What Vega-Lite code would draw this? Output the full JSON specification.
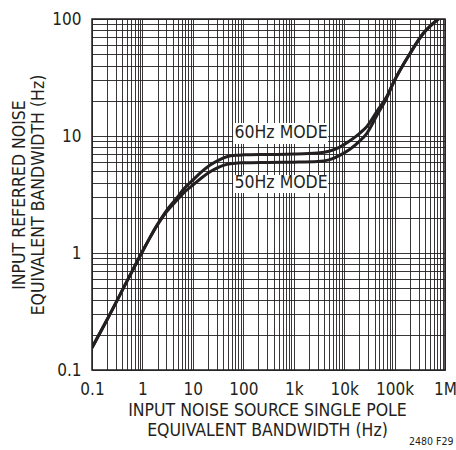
{
  "$schema": "https://vega.github.io/schema/vega-lite/v6.json",
  "width": 353,
  "height": 351,
  "autosize": {"type": "none"},
  "padding": {"left": 92, "top": 19, "right": 11, "bottom": 80},
  "background": "white",
  "config": {
    "font": "DejaVu Sans Condensed, sans-serif",
    "view": {"stroke": "#231f20", "strokeWidth": 1.5},
    "axis": {"labelColor": "#231f20", "titleColor": "#231f20", "gridColor": "#231f20", "gridWidth": 0.9, "gridOpacity": 1}
  },
  "title": {"text": "2480 F29", "orient": "bottom", "anchor": "end", "fontSize": 10.5, "fontWeight": "normal", "color": "#231f20", "offset": -2, "dx": -3},
  "datasets": {
    "curves": [
      {"mode": "60Hz", "x": 0.1, "y": 0.155},
      {"mode": "60Hz", "x": 0.2, "y": 0.27},
      {"mode": "60Hz", "x": 0.5, "y": 0.58},
      {"mode": "60Hz", "x": 1, "y": 1.03},
      {"mode": "60Hz", "x": 1.3, "y": 1.27},
      {"mode": "60Hz", "x": 1.6, "y": 1.5},
      {"mode": "60Hz", "x": 2.2, "y": 1.88},
      {"mode": "60Hz", "x": 3, "y": 2.3},
      {"mode": "60Hz", "x": 4.8, "y": 2.95},
      {"mode": "60Hz", "x": 6.5, "y": 3.5},
      {"mode": "60Hz", "x": 10, "y": 4.2},
      {"mode": "60Hz", "x": 15, "y": 4.95},
      {"mode": "60Hz", "x": 22, "y": 5.65},
      {"mode": "60Hz", "x": 32, "y": 6.2},
      {"mode": "60Hz", "x": 47, "y": 6.65},
      {"mode": "60Hz", "x": 70, "y": 6.85},
      {"mode": "60Hz", "x": 100, "y": 6.9},
      {"mode": "60Hz", "x": 300, "y": 6.95},
      {"mode": "60Hz", "x": 1000, "y": 7.0},
      {"mode": "60Hz", "x": 3000, "y": 7.15},
      {"mode": "60Hz", "x": 5000, "y": 7.4},
      {"mode": "60Hz", "x": 8000, "y": 8.0},
      {"mode": "60Hz", "x": 13000, "y": 9.1},
      {"mode": "60Hz", "x": 20000, "y": 10.5},
      {"mode": "60Hz", "x": 28000, "y": 12.0},
      {"mode": "60Hz", "x": 45000, "y": 16.3},
      {"mode": "60Hz", "x": 70000, "y": 21.8},
      {"mode": "60Hz", "x": 95000, "y": 28.6},
      {"mode": "60Hz", "x": 204000, "y": 51},
      {"mode": "60Hz", "x": 372000, "y": 75.5},
      {"mode": "60Hz", "x": 740000, "y": 100},
      {"mode": "50Hz", "x": 0.1, "y": 0.155},
      {"mode": "50Hz", "x": 0.2, "y": 0.27},
      {"mode": "50Hz", "x": 0.5, "y": 0.58},
      {"mode": "50Hz", "x": 1, "y": 1.03},
      {"mode": "50Hz", "x": 1.3, "y": 1.27},
      {"mode": "50Hz", "x": 1.6, "y": 1.49},
      {"mode": "50Hz", "x": 2.2, "y": 1.86},
      {"mode": "50Hz", "x": 3, "y": 2.25},
      {"mode": "50Hz", "x": 4.8, "y": 2.82},
      {"mode": "50Hz", "x": 6.5, "y": 3.25},
      {"mode": "50Hz", "x": 10, "y": 3.8},
      {"mode": "50Hz", "x": 15, "y": 4.4},
      {"mode": "50Hz", "x": 22, "y": 4.95},
      {"mode": "50Hz", "x": 32, "y": 5.4},
      {"mode": "50Hz", "x": 47, "y": 5.72},
      {"mode": "50Hz", "x": 70, "y": 5.86},
      {"mode": "50Hz", "x": 100, "y": 5.9},
      {"mode": "50Hz", "x": 300, "y": 5.95},
      {"mode": "50Hz", "x": 1000, "y": 5.98},
      {"mode": "50Hz", "x": 3000, "y": 6.05},
      {"mode": "50Hz", "x": 5000, "y": 6.25},
      {"mode": "50Hz", "x": 8000, "y": 6.8},
      {"mode": "50Hz", "x": 13000, "y": 7.7},
      {"mode": "50Hz", "x": 20000, "y": 9.0},
      {"mode": "50Hz", "x": 28000, "y": 10.5},
      {"mode": "50Hz", "x": 45000, "y": 15.1},
      {"mode": "50Hz", "x": 70000, "y": 21.2},
      {"mode": "50Hz", "x": 95000, "y": 28.6},
      {"mode": "50Hz", "x": 204000, "y": 51},
      {"mode": "50Hz", "x": 372000, "y": 75.5},
      {"mode": "50Hz", "x": 740000, "y": 100}
    ],
    "labels": [
      {"label": "60Hz MODE", "x0": 62.8, "x1": 4820, "y0": 8.55, "y1": 12.9, "xt": 562, "yt": 10.6},
      {"label": "50Hz MODE", "x0": 62.8, "x1": 4820, "y0": 3.26, "y1": 4.64, "xt": 562, "yt": 3.96}
    ]
  },
  "layer": [
    {
      "data": {"name": "labels"},
      "mark": {"type": "rect", "fill": "white", "stroke": null},
      "encoding": {
        "x": {"field": "x0", "type": "quantitative", "scale": {"type": "log", "domain": [0.1, 1000000], "nice": false},
          "axis": {
            "values": [0.1,0.2,0.3,0.4,0.5,0.6,0.7,0.8,0.9,1,2,3,4,5,6,7,8,9,10,20,30,40,50,60,70,80,90,100,200,300,400,500,600,700,800,900,1000,2000,3000,4000,5000,6000,7000,8000,9000,10000,20000,30000,40000,50000,60000,70000,80000,90000,100000,200000,300000,400000,500000,600000,700000,800000,900000,1000000],
            "labelExpr": "datum.value==0.1?'0.1':datum.value==1?'1':datum.value==10?'10':datum.value==100?'100':datum.value==1000?'1k':datum.value==10000?'10k':datum.value==100000?'100k':datum.value==1000000?'1M':''",
            "grid": true, "ticks": false, "tickSize": 0, "domain": false,
            "labelPadding": 11, "labelFontSize": 17, "labelFlush": false, "labelOverlap": false, "labelBound": false,
            "title": ["INPUT NOISE SOURCE SINGLE POLE", "EQUIVALENT BANDWIDTH (Hz)"],
            "titleFontSize": 17.5, "titleFontWeight": "normal", "titleLineHeight": 20,
            "titleX": 175, "titleY": 40, "titleBaseline": "middle", "titleAlign": "center"
          }},
        "x2": {"field": "x1"},
        "y": {"field": "y0", "type": "quantitative", "scale": {"type": "log", "domain": [0.1, 100], "nice": false},
          "axis": {
            "values": [0.1,0.2,0.3,0.4,0.5,0.6,0.7,0.8,0.9,1,2,3,4,5,6,7,8,9,10,20,30,40,50,60,70,80,90,100],
            "labelExpr": "datum.value==0.1?'0.1':datum.value==1?'1':datum.value==10?'10':datum.value==100?'100':''",
            "grid": true, "ticks": false, "tickSize": 0, "domain": false,
            "labelPadding": 11, "labelFontSize": 17, "labelFlush": false, "labelOverlap": false, "labelBound": false,
            "title": ["INPUT REFERRED NOISE", "EQUIVALENT BANDWIDTH (Hz)"],
            "titleFontSize": 17.5, "titleFontWeight": "normal", "titleLineHeight": 19,
            "titleX": -73, "titleY": 175.5, "titleBaseline": "middle", "titleAlign": "center", "titleAngle": -90
          }},
        "y2": {"field": "y1"}
      }
    },
    {
      "data": {"name": "curves"},
      "mark": {"type": "line", "interpolate": "monotone", "strokeWidth": 3, "color": "#231f20", "clip": true},
      "encoding": {
        "x": {"field": "x", "type": "quantitative"},
        "y": {"field": "y", "type": "quantitative"},
        "detail": {"field": "mode"}
      }
    },
    {
      "data": {"name": "labels"},
      "mark": {"type": "text", "fontSize": 17.5, "color": "#231f20", "align": "center", "baseline": "middle"},
      "encoding": {
        "x": {"field": "xt", "type": "quantitative"},
        "y": {"field": "yt", "type": "quantitative"},
        "text": {"field": "label"}
      }
    }
  ]
}
